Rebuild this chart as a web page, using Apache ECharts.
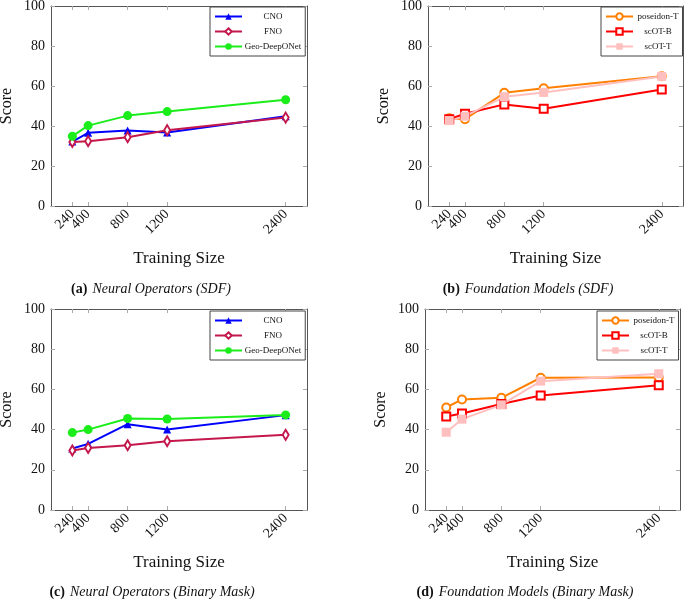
<!DOCTYPE html>
<html>
<head>
<meta charset="utf-8">
<script src="https://cdn.jsdelivr.net/npm/echarts@6/dist/echarts.min.js"></script>
<style>
  html, body { margin: 0; padding: 0; background: #fff; }
  #wrap { position: relative; width: 685px; height: 599px; }
  .panel { position: absolute; }
</style>
</head>
<body>
<div id="wrap">
  <div id="pa" class="panel" style="left:0;top:0;width:342px;height:300px"></div>
  <div id="pb" class="panel" style="left:340px;top:0;width:345px;height:300px"></div>
  <div id="pc" class="panel" style="left:0;top:300px;width:342px;height:299px"></div>
  <div id="pd" class="panel" style="left:340px;top:300px;width:345px;height:299px"></div>
</div>
<script>
// training sizes (x) shared by all panels
const sizes = [240, 400, 800, 1200, 2400];

// (a) Neural Operators (SDF)
const cnoSdf = [32.2, 36.6, 37.7, 36.7, 44.9];
const fnoSdf = [32.0, 32.4, 34.4, 37.9, 44.2];
const geoSdf = [34.9, 40.2, 45.2, 47.2, 53.1];

// (b) Foundation Models (SDF)
const poseidonSdf = [43.9, 43.4, 56.6, 58.9, 64.9];
const scotBSdf = [43.4, 46.1, 50.8, 48.6, 58.3];
const scotTSdf = [42.7, 44.9, 54.6, 56.8, 64.8];

// (c) Neural Operators (Binary Mask)
const cnoMask = [30.6, 32.9, 42.7, 40.0, 47.2];
const fnoMask = [29.6, 30.9, 32.2, 34.2, 37.4];
const geoMask = [38.5, 40.0, 45.5, 45.3, 47.3];

// (d) Foundation Models (Binary Mask)
const poseidonMask = [51.0, 55.0, 55.8, 65.8, 65.9];
const scotBMask = [46.5, 48.0, 52.7, 57.0, 62.1];
const scotTMask = [38.7, 45.2, 52.3, 64.1, 67.8];

const SERIF = '"Liberation Serif", "DejaVu Serif", serif';
// x range padded 10% each side, like pgfplots enlargelimits
const X_MIN = 24;
const X_MAX = 2616;

const styles = {
    'CNO': { color: '#0000ff', symbol: 'triangle', symbolSize: 8 },
    'FNO': { color: '#c4174c', symbol: 'emptyDiamond', symbolSize: [6, 10] },
    'Geo-DeepONet': { color: '#1aed1a', symbol: 'circle', symbolSize: 9 },
    'poseidon-T': { color: '#ff8000', symbol: 'emptyCircle', symbolSize: 8 },
    'scOT-B': { color: '#ff0000', symbol: 'emptyRect', symbolSize: 8 },
    'scOT-T': { color: '#ffbfbf', symbol: 'rect', symbolSize: 9 }
};

function pairs(values) {
    return sizes.map((s, i) => [s, values[i]]);
}

function xAxisDef(pos) {
    const bottom = pos === 'bottom';
    return {
        type: 'value',
        position: pos,
        min: X_MIN,
        max: X_MAX,
        axisLine: { show: true, onZero: false, lineStyle: { color: '#555', width: 1 } },
        axisTick: { show: true, inside: true, length: 4, customValues: sizes, lineStyle: { color: '#aaa' } },
        axisLabel: {
            show: bottom,
            // blank label at the axis start so the min/max overlap check never drops 400
            customValues: [X_MIN].concat(sizes),
            rotate: 45, margin: 6,
            formatter: v => (sizes.indexOf(v) >= 0 ? String(v) : ''),
            fontFamily: SERIF, fontSize: 14, color: '#111'
        },
        splitLine: { show: false },
        name: bottom ? 'Training Size' : '',
        nameLocation: 'middle',
        nameGap: 44,
        nameTextStyle: { fontFamily: SERIF, fontSize: 17, color: '#111' }
    };
}

function yAxisDef(pos) {
    const left = pos === 'left';
    return {
        type: 'value',
        position: pos,
        min: 0,
        max: 100,
        interval: 20,
        axisLine: { show: true, lineStyle: { color: '#555', width: 1 } },
        axisTick: { show: true, inside: true, length: 4, lineStyle: { color: '#aaa' } },
        axisLabel: { show: left, margin: 6, fontFamily: SERIF, fontSize: 14, color: '#111' },
        splitLine: { show: false },
        name: left ? 'Score' : '',
        nameLocation: 'middle',
        nameGap: 36,
        nameMoveOverlap: false,
        nameTextStyle: { fontFamily: SERIF, fontSize: 16, color: '#111' }
    };
}

function initPanel(el, p) {
    const chart = echarts.init(el);
    const names = Object.keys(p.series);
    const option = {
        animation: false,
        title: {
            text: '{b|' + p.tag + '} {i|' + p.caption + '}',
            left: p.capX,
            top: p.capY,
            padding: 0,
            textAlign: 'center',
            textStyle: {
                fontWeight: 'normal',
                rich: {
                    b: { fontFamily: SERIF, fontSize: 14, fontWeight: 'bold', color: '#111' },
                    i: { fontFamily: SERIF, fontSize: 14, fontStyle: 'italic', fontWeight: 'normal', color: '#111' }
                }
            }
        },
        legend: {
            data: names,
            orient: 'vertical',
            left: p.legX,
            top: p.legY,
            width: p.legW,
            itemWidth: 27,
            itemHeight: 8,
            itemGap: 6,
            padding: [5, 4, 5, 4],
            borderColor: '#444',
            borderWidth: 1,
            backgroundColor: '#fff',
            formatter: name => '{t|' + name + '}',
            textStyle: {
                rich: { t: { fontFamily: SERIF, fontSize: 9, color: '#111', width: p.legTextW, align: 'center' } }
            }
        },
        grid: { left: p.gl, top: p.gt, width: p.gw, height: p.gh, outerBoundsMode: 'none' },
        xAxis: [xAxisDef('bottom'), xAxisDef('top')],
        yAxis: [yAxisDef('left'), yAxisDef('right')],
        series: names.map(n => ({
            name: n,
            type: 'line',
            xAxisIndex: 0,
            yAxisIndex: 0,
            data: pairs(p.series[n]),
            color: styles[n].color,
            symbol: styles[n].symbol,
            symbolSize: styles[n].symbolSize,
            showAllSymbol: true,
            lineStyle: { width: 2 },
            itemStyle: { borderWidth: 1.5 }
        }))
    };
    chart.setOption(option);
    return chart;
}

initPanel(document.getElementById('pa'), {
    tag: '(a)', caption: 'Neural Operators (SDF)', capX: 151, capY: 280,
    legX: 210, legY: 7, legW: 94, legTextW: 52,
    gl: 51, gt: 6, gw: 256, gh: 200,
    series: { 'CNO': cnoSdf, 'FNO': fnoSdf, 'Geo-DeepONet': geoSdf }
});

initPanel(document.getElementById('pb'), {
    tag: '(b)', caption: 'Foundation Models (SDF)', capX: 188, capY: 280,
    legX: 261, legY: 7, legW: 80, legTextW: 40,
    gl: 88, gt: 6, gw: 255, gh: 200,
    series: { 'poseidon-T': poseidonSdf, 'scOT-B': scotBSdf, 'scOT-T': scotTSdf }
});

initPanel(document.getElementById('pc'), {
    tag: '(c)', caption: 'Neural Operators (Binary Mask)', capX: 152, capY: 283,
    legX: 210, legY: 11, legW: 94, legTextW: 52,
    gl: 51, gt: 9, gw: 256, gh: 201,
    series: { 'CNO': cnoMask, 'FNO': fnoMask, 'Geo-DeepONet': geoMask }
});

initPanel(document.getElementById('pd'), {
    tag: '(d)', caption: 'Foundation Models (Binary Mask)', capX: 185, capY: 283,
    legX: 257, legY: 11, legW: 83, legTextW: 40,
    gl: 85, gt: 9, gw: 255, gh: 201,
    series: { 'poseidon-T': poseidonMask, 'scOT-B': scotBMask, 'scOT-T': scotTMask }
});
</script>
</body>
</html>
